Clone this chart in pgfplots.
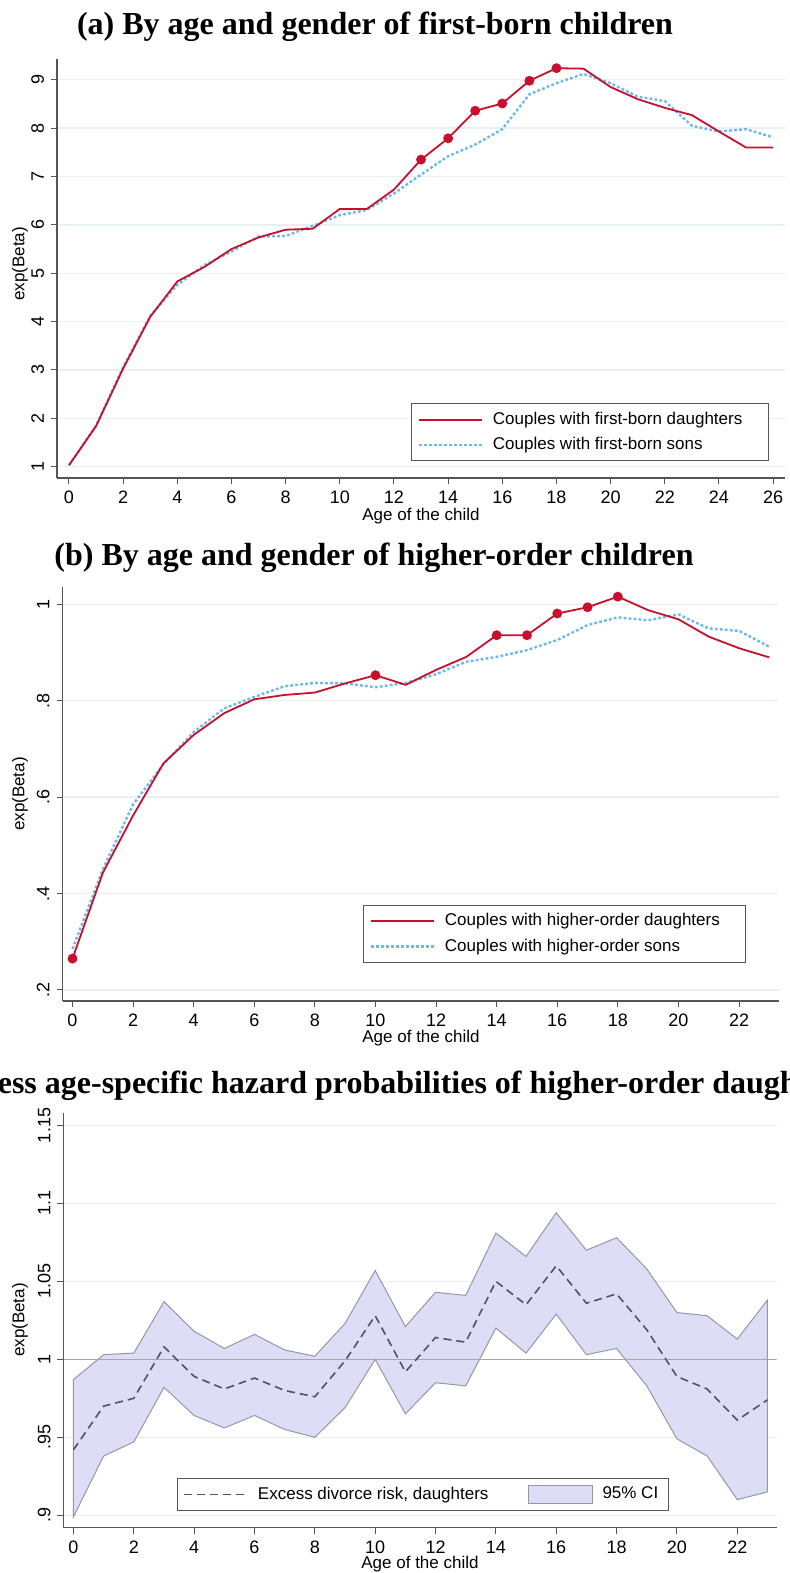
\documentclass[border=0pt]{standalone}
\usepackage{fontspec}
\setmainfont{Liberation Sans}
\newfontfamily\titlefont{Liberation Serif}
\usepackage{pgfplots}
\pgfplotsset{compat=1.18}
\usepgfplotslibrary{fillbetween}
\definecolor{sred}{RGB}{200,16,46}
\definecolor{sblue}{RGB}{110,185,235}
\definecolor{gridc}{RGB}{232,241,242}
\definecolor{gridg}{RGB}{236,236,236}
\definecolor{axc}{RGB}{85,85,85}
\definecolor{cifill}{RGB}{221,222,246}
\definecolor{ciline}{RGB}{150,150,165}
\definecolor{estc}{RGB}{75,85,105}

\pgfplotstableread{
x d s
0 1.03 1.03
1 1.84 1.85
2 3.03 3.06
3 4.10 4.12
4 4.83 4.76
5 5.13 5.17
6 5.50 5.45
7 5.74 5.76
8 5.90 5.77
9 5.92 5.98
10 6.33 6.20
11 6.33 6.31
12 6.73 6.65
13 7.35 7.04
14 7.79 7.42
15 8.36 7.66
16 8.51 7.98
17 8.98 8.70
18 9.24 8.93
19 9.23 9.12
20 8.85 8.93
21 8.60 8.65
22 8.42 8.56
23 8.27 8.05
24 7.93 7.93
25 7.60 7.98
26 7.60 7.81
}\tabA

\pgfplotstableread{
x d s
0 0.265 0.285
1 0.443 0.450
2 0.562 0.585
3 0.670 0.668
4 0.729 0.735
5 0.774 0.784
6 0.803 0.808
7 0.812 0.830
8 0.817 0.837
9 0.836 0.836
10 0.853 0.828
11 0.833 0.837
12 0.864 0.855
13 0.891 0.881
14 0.936 0.891
15 0.936 0.905
16 0.981 0.926
17 0.994 0.957
18 1.016 0.973
19 0.988 0.967
20 0.969 0.979
21 0.933 0.950
22 0.909 0.945
23 0.890 0.912
}\tabB

\pgfplotstableread{
x est lo hi
0 0.942 0.899 0.987
1 0.970 0.938 1.003
2 0.975 0.947 1.004
3 1.008 0.982 1.037
4 0.989 0.964 1.018
5 0.981 0.956 1.007
6 0.988 0.964 1.016
7 0.980 0.955 1.006
8 0.976 0.950 1.002
9 0.999 0.969 1.023
10 1.028 1.000 1.057
11 0.992 0.965 1.021
12 1.014 0.985 1.043
13 1.011 0.983 1.041
14 1.050 1.020 1.081
15 1.035 1.004 1.066
16 1.060 1.029 1.094
17 1.036 1.003 1.070
18 1.042 1.007 1.078
19 1.019 0.983 1.058
20 0.989 0.949 1.030
21 0.981 0.938 1.028
22 0.961 0.910 1.013
23 0.974 0.915 1.038
}\tabC

\pgfplotsset{
  stata/.style={
    scale only axis,
    anchor=north west,
    axis lines=left,
    axis line style={-, color=axc, line width=0.6pt},
    tick align=outside,
    major tick length=3pt,
    every tick/.style={color=axc, line width=0.5pt},
    ymajorgrids,
    xmajorgrids=false,
    tick label style={font=\fontsize{9}{10}\selectfont},
    yticklabel style={rotate=90, anchor=south},
    legend style={draw=axc, line width=0.5pt, font=\fontsize{8.5}{10}\selectfont,
      inner xsep=3pt, inner ysep=2pt, row sep=1pt, cells={anchor=west},
      /tikz/every odd column/.append style={column sep=3pt}},
    legend image code/.code={\draw[#1] (0pt,0pt) -- (31.5pt,0pt);},
  },
  cirect/.style={legend image code/.code={\draw[fill=cifill, draw=ciline, line width=0.5pt] (0pt,-4.5pt) rectangle (32pt,4.5pt);}},
}

\begin{document}
\begin{tikzpicture}
\tikzset{lab/.style={font=\fontsize{8.5}{10}\selectfont}}

% ---------------- Panel (a)
\node[font=\titlefont\bfseries\fontsize{16}{18}\selectfont, anchor=base] at (187.5pt,-17.5pt)
  {(a) By age and gender of first-born children};
\begin{axis}[stata, at={(28.5pt,-29.5pt)}, width=364pt, height=209.5pt,
  xmin=-0.443, xmax=26.44, ymin=0.766, ymax=9.43,
  xtick={0,2,...,26}, xticklabels={0,2,4,6,8,10,12,14,16,18,20,22,24,26},
  ytick={1,2,...,9}, yticklabels={1,2,3,4,5,6,7,8,9},
  grid style={gridc, line width=0.7pt},
  legend style={at={(0.4863,0.178)}, anchor=north west}]
\addplot[sblue, line width=1.2pt, dash pattern=on 1.4pt off 1.1pt, forget plot] table[x=x,y=s]{\tabA};
\addplot[sred, line width=0.9pt, mark=*, mark size=2pt, mark indices={14,15,16,17,18,19}, forget plot]
  table[x=x,y=d]{\tabA};
\addlegendimage{sred, line width=1pt}
\addlegendentry{Couples with first-born daughters\hspace*{8pt}}
\addlegendimage{sblue, line width=1.2pt, dash pattern=on 1.4pt off 1.1pt}
\addlegendentry{Couples with first-born sons}
\end{axis}
\node[lab, anchor=base] at (210.5pt,-260pt) {Age of the child};
\node[lab, rotate=90] at (10pt,-132pt) {exp(Beta)};

% ---------------- Panel (b)
\node[font=\titlefont\bfseries\fontsize{16}{18}\selectfont, anchor=base] at (187pt,-282.5pt)
  {(b) By age and gender of higher-order children};
\begin{axis}[stata, at={(31.25pt,-293.5pt)}, width=358.25pt, height=207pt,
  xmin=-0.33, xmax=23.32, ymin=0.177, ymax=1.036,
  xtick={0,2,...,22}, xticklabels={0,2,4,6,8,10,12,14,16,18,20,22},
  ytick={0.2,0.4,0.6,0.8,1}, yticklabels={.2,.4,.6,.8,1},
  grid style={gridc, line width=0.7pt},
  legend style={at={(0.4194,0.2319)}, anchor=north west}]
\addplot[sblue, line width=1.2pt, dash pattern=on 1.4pt off 1.1pt, forget plot] table[x=x,y=s]{\tabB};
\addplot[sred, line width=0.9pt, mark=*, mark size=2pt, mark indices={1,11,15,16,17,18,19}, forget plot]
  table[x=x,y=d]{\tabB};
\addlegendimage{sred, line width=1pt}
\addlegendentry{Couples with higher-order daughters\hspace*{8pt}}
\addlegendimage{sblue, line width=1.2pt, dash pattern=on 1.4pt off 1.1pt}
\addlegendentry{Couples with higher-order sons}
\end{axis}
\node[lab, anchor=base] at (210.5pt,-521.3pt) {Age of the child};
\node[lab, rotate=90] at (10pt,-397pt) {exp(Beta)};

% ---------------- Panel (c)
\node[font=\titlefont\bfseries\fontsize{16}{18}\selectfont, anchor=base] at (188pt,-546.5pt)
  {(c) Excess age-specific hazard probabilities of higher-order daughters};
\begin{axis}[stata, at={(31.75pt,-556.5pt)}, width=356.5pt, height=207.35pt,
  xmin=-0.33, xmax=23.3, ymin=0.892, ymax=1.158,
  xtick={0,2,...,22}, xticklabels={0,2,4,6,8,10,12,14,16,18,20,22},
  ytick={0.9,0.95,1,1.05,1.1,1.15}, yticklabels={.9,.95,1,1.05,1.1,1.15},
  grid style={gridg, line width=0.7pt},
  legend columns=2,
  legend style={at={(0.159,0.119)}, anchor=north west,
    /tikz/every even column/.append style={column sep=17.5pt}}]
\addplot[name path=hi, draw=none, forget plot] table[x=x,y=hi]{\tabC};
\addplot[name path=lo, draw=none, forget plot] table[x=x,y=lo]{\tabC};
\addplot[fill=cifill, draw=ciline, line width=0.5pt, forget plot] fill between[of=hi and lo];
\draw[color=black!35, line width=0.6pt] (axis cs:-0.33,1) -- (axis cs:23.3,1);
\addplot[estc, line width=0.8pt, dash pattern=on 4pt off 2.5pt] table[x=x,y=est]{\tabC};
\addlegendentry{Excess divorce risk, daughters}
\addlegendimage{cirect}
\addlegendentry{95\% CI}
\end{axis}
\node[lab, anchor=base] at (210pt,-784pt) {Age of the child};
\node[lab, rotate=90] at (10pt,-660pt) {exp(Beta)};

\pgfresetboundingbox
\path[use as bounding box] (0pt,0pt) rectangle (395pt,-786.5pt);
\end{tikzpicture}
\end{document}
